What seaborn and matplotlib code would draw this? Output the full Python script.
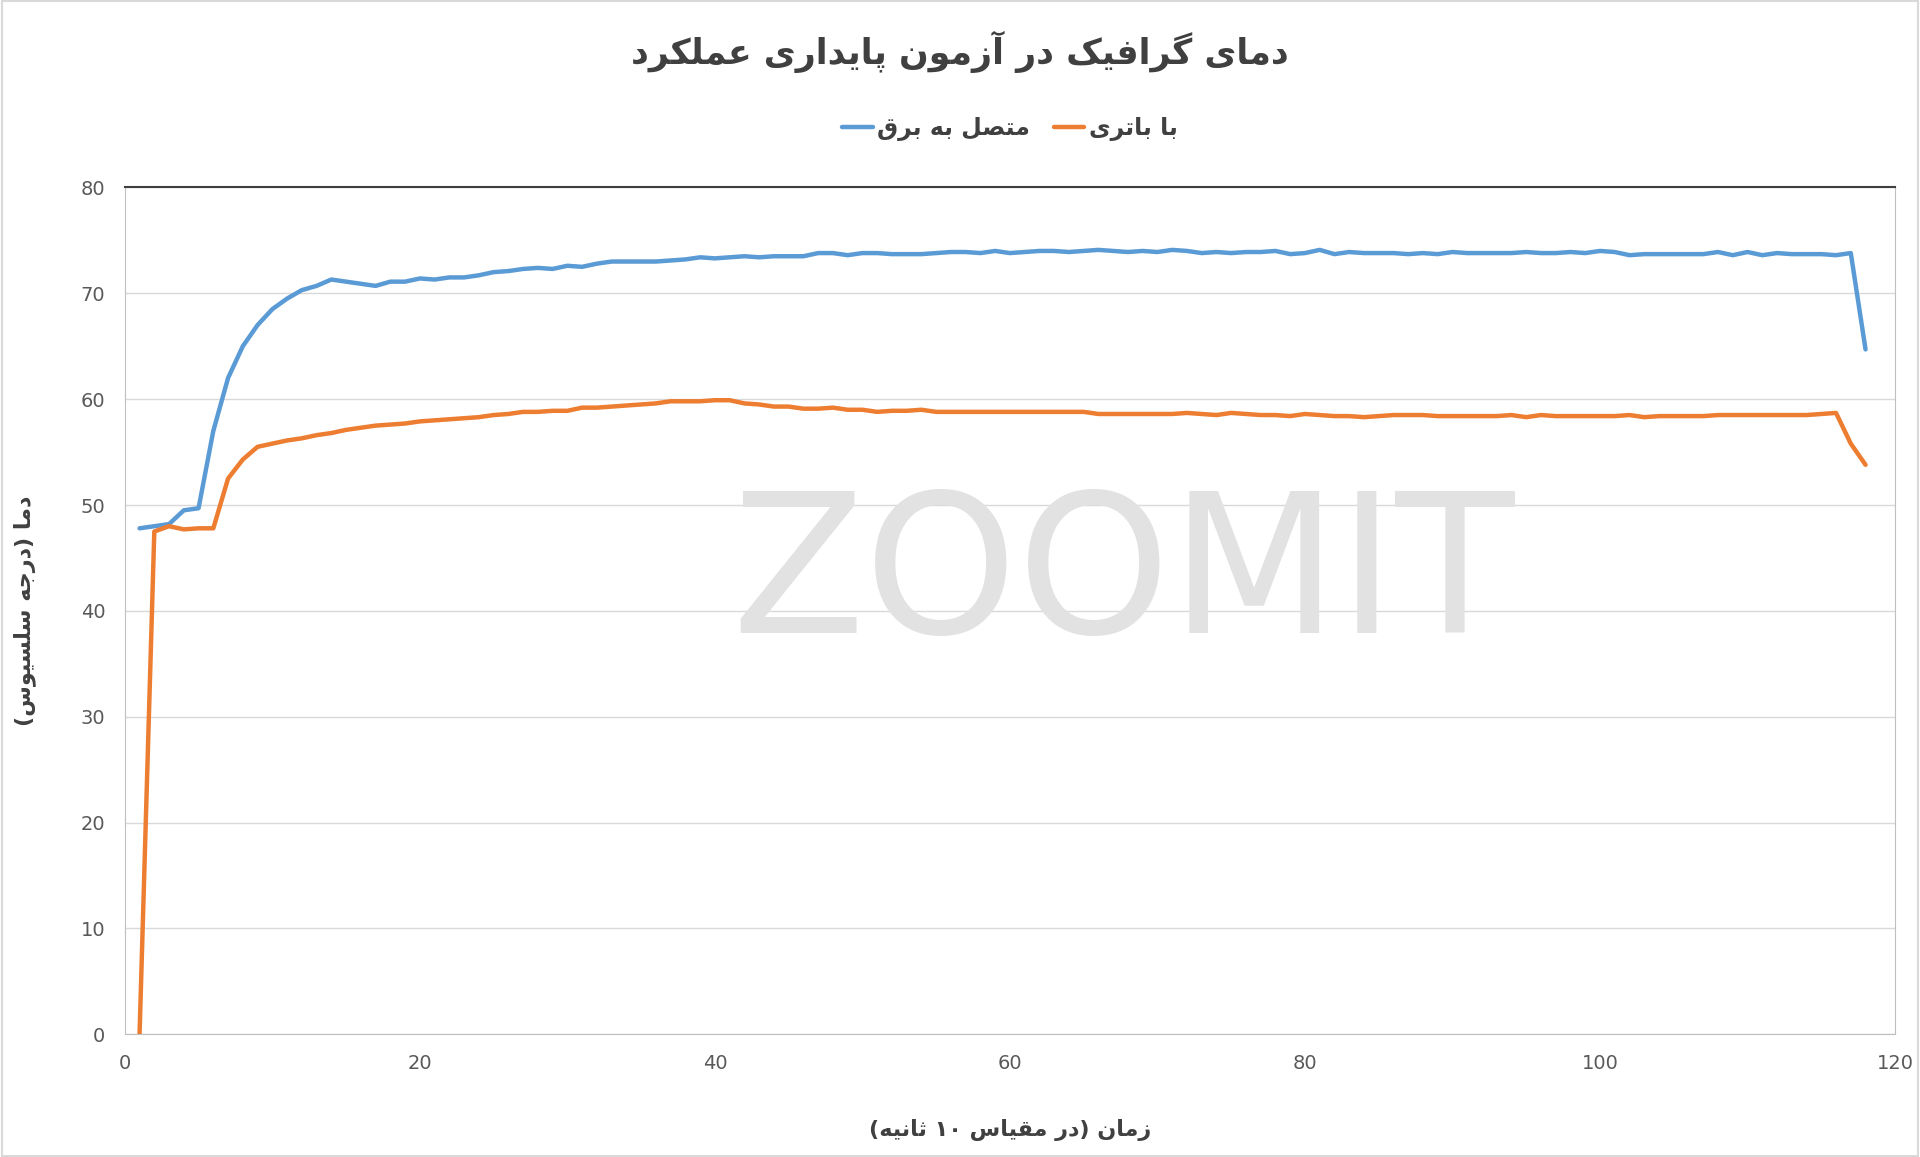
import matplotlib
matplotlib.use('Agg')
import matplotlib.pyplot as plt
import seaborn as sns
import pandas as pd

# --- data ---
zaman = list(range(1, 119))
motasel_be_bargh = [
    47.8, 48.0, 48.2, 49.5, 49.7, 57.0, 62.0, 65.0, 67.0, 68.5,
    69.5, 70.3, 70.7, 71.3, 71.1, 70.9, 70.7, 71.1, 71.1, 71.4,
    71.3, 71.5, 71.5, 71.7, 72.0, 72.1, 72.3, 72.4, 72.3, 72.6,
    72.5, 72.8, 73.0, 73.0, 73.0, 73.0, 73.1, 73.2, 73.4, 73.3,
    73.4, 73.5, 73.4, 73.5, 73.5, 73.5, 73.8, 73.8, 73.6, 73.8,
    73.8, 73.7, 73.7, 73.7, 73.8, 73.9, 73.9, 73.8, 74.0, 73.8,
    73.9, 74.0, 74.0, 73.9, 74.0, 74.1, 74.0, 73.9, 74.0, 73.9,
    74.1, 74.0, 73.8, 73.9, 73.8, 73.9, 73.9, 74.0, 73.7, 73.8,
    74.1, 73.7, 73.9, 73.8, 73.8, 73.8, 73.7, 73.8, 73.7, 73.9,
    73.8, 73.8, 73.8, 73.8, 73.9, 73.8, 73.8, 73.9, 73.8, 74.0,
    73.9, 73.6, 73.7, 73.7, 73.7, 73.7, 73.7, 73.9, 73.6, 73.9,
    73.6, 73.8, 73.7, 73.7, 73.7, 73.6, 73.8, 64.7,
]
ba_batri = [
    0.0, 47.5, 48.0, 47.7, 47.8, 47.8, 52.5, 54.3, 55.5, 55.8,
    56.1, 56.3, 56.6, 56.8, 57.1, 57.3, 57.5, 57.6, 57.7, 57.9,
    58.0, 58.1, 58.2, 58.3, 58.5, 58.6, 58.8, 58.8, 58.9, 58.9,
    59.2, 59.2, 59.3, 59.4, 59.5, 59.6, 59.8, 59.8, 59.8, 59.9,
    59.9, 59.6, 59.5, 59.3, 59.3, 59.1, 59.1, 59.2, 59.0, 59.0,
    58.8, 58.9, 58.9, 59.0, 58.8, 58.8, 58.8, 58.8, 58.8, 58.8,
    58.8, 58.8, 58.8, 58.8, 58.8, 58.6, 58.6, 58.6, 58.6, 58.6,
    58.6, 58.7, 58.6, 58.5, 58.7, 58.6, 58.5, 58.5, 58.4, 58.6,
    58.5, 58.4, 58.4, 58.3, 58.4, 58.5, 58.5, 58.5, 58.4, 58.4,
    58.4, 58.4, 58.4, 58.5, 58.3, 58.5, 58.4, 58.4, 58.4, 58.4,
    58.4, 58.5, 58.3, 58.4, 58.4, 58.4, 58.4, 58.5, 58.5, 58.5,
    58.5, 58.5, 58.5, 58.5, 58.6, 58.7, 55.8, 53.8,
]
x_ticks = [0, 20, 40, 60, 80, 100, 120]
y_ticks = [0, 10, 20, 30, 40, 50, 60, 70, 80]

# --- tiny persian shaper (matplotlib has no bidi / joining) ---
FORMS = {
    'ا': ('\uFE8D', '\uFE8E', None, None), 'ب': ('\uFE8F', '\uFE90', '\uFE91', '\uFE92'),
    'پ': ('\uFB56', '\uFB57', '\uFB58', '\uFB59'), 'ت': ('\uFE95', '\uFE96', '\uFE97', '\uFE98'),
    'ث': ('\uFE99', '\uFE9A', '\uFE9B', '\uFE9C'), 'ج': ('\uFE9D', '\uFE9E', '\uFE9F', '\uFEA0'),
    'د': ('\uFEA9', '\uFEAA', None, None), 'ر': ('\uFEAD', '\uFEAE', None, None),
    'ز': ('\uFEAF', '\uFEB0', None, None), 'س': ('\uFEB1', '\uFEB2', '\uFEB3', '\uFEB4'),
    'ص': ('\uFEB9', '\uFEBA', '\uFEBB', '\uFEBC'), 'ع': ('\uFEC9', '\uFECA', '\uFECB', '\uFECC'),
    'ف': ('\uFED1', '\uFED2', '\uFED3', '\uFED4'), 'ق': ('\uFED5', '\uFED6', '\uFED7', '\uFED8'),
    'ک': ('\uFB8E', '\uFB8F', '\uFB90', '\uFB91'), 'گ': ('\uFB92', '\uFB93', '\uFB94', '\uFB95'),
    'ل': ('\uFEDD', '\uFEDE', '\uFEDF', '\uFEE0'), 'م': ('\uFEE1', '\uFEE2', '\uFEE3', '\uFEE4'),
    'ن': ('\uFEE5', '\uFEE6', '\uFEE7', '\uFEE8'), 'ه': ('\uFEE9', '\uFEEA', '\uFEEB', '\uFEEC'),
    'و': ('\uFEED', '\uFEEE', None, None), 'ی': ('\uFBFC', '\uFBFD', '\uFBFE', '\uFBFF'),
}


def fa(text):
    out = []
    for i, ch in enumerate(text):
        if ch not in FORMS:
            out.append(ch)
            continue
        prev = text[i - 1] if i > 0 else ''
        nxt = text[i + 1] if i + 1 < len(text) else ''
        join_prev = prev in FORMS and FORMS[prev][2] is not None
        join_next = nxt in FORMS and FORMS[ch][2] is not None
        iso, fin, ini, med = FORMS[ch]
        if join_prev and join_next:
            out.append(med)
        elif join_prev:
            out.append(fin)
        elif join_next:
            out.append(ini)
        else:
            out.append(iso)
    # visual order: reverse, keep digit runs, mirror brackets
    runs, cur = [], ''
    for ch in out:
        if ch.isdigit():
            cur += ch
        else:
            if cur:
                runs.append(cur)
                cur = ''
            runs.append({'(': ')', ')': '('}.get(ch, ch))
    if cur:
        runs.append(cur)
    return ''.join(reversed(runs))


df = pd.DataFrame({
    'zaman': zaman * 2,
    'dama': motasel_be_bargh + ba_batri,
    'halat': [fa('متصل به برق')] * len(zaman) + [fa('با باتری')] * len(zaman),
})

sns.set_style('white')
plt.rcParams['font.family'] = ['DejaVu Sans']

fig = plt.figure(figsize=(19.2, 11.57), dpi=100)
ax = fig.add_axes([0.065, 0.106, 0.922, 0.732])

# watermark
fig.text(0.585, 0.5, 'ZOOMIT', fontsize=140, fontweight='normal', color='#e2e2e2',
         ha='center', va='center', zorder=0)
ax.patch.set_alpha(0)

sns.lineplot(data=df, x='zaman', y='dama', hue='halat',
             palette=['#5b9bd5', '#ed7d31'], linewidth=3.2, ax=ax)

ax.set_xlim(0, 120)
ax.set_ylim(0, 80)
ax.set_xticks(x_ticks)
ax.set_yticks(y_ticks)
ax.tick_params(axis='both', length=0, labelsize=14, labelcolor='#595959', pad=14)
ax.grid(axis='y', color='#d9d9d9', linewidth=1)
for s in ['left', 'right', 'bottom']:
    ax.spines[s].set_color('#bfbfbf')
ax.spines['top'].set_color('#404040')
ax.spines['top'].set_linewidth(1.5)

ax.set_xlabel(fa('زمان (در مقیاس ۱۰ ثانیه)'), fontsize=16, fontweight='bold', color='#404040')
ax.set_ylabel(fa('دما (درجه سلسیوس)'), fontsize=16, fontweight='bold', color='#404040')
ax.xaxis.set_label_coords(0.5, -0.1)
ax.yaxis.set_label_coords(-0.05, 0.5)

ax.legend(loc='lower center', bbox_to_anchor=(0.5, 1.03), ncol=2, frameon=False,
          prop={'size': 17, 'weight': 'bold'}, handlelength=1.3, columnspacing=1.0, handletextpad=0.2,
          labelcolor='#404040')
fig.text(0.5, 0.955, fa('دمای گرافیک در آزمون پایداری عملکرد'), ha='center', va='center',
         fontsize=25, fontweight='bold', color='#404040')

fig.patches.append(plt.Rectangle((0.001, 0.001), 0.998, 0.998, transform=fig.transFigure,
                                 fill=False, edgecolor='#d9d9d9', linewidth=1.5))

fig.savefig('out.png', dpi=100)
